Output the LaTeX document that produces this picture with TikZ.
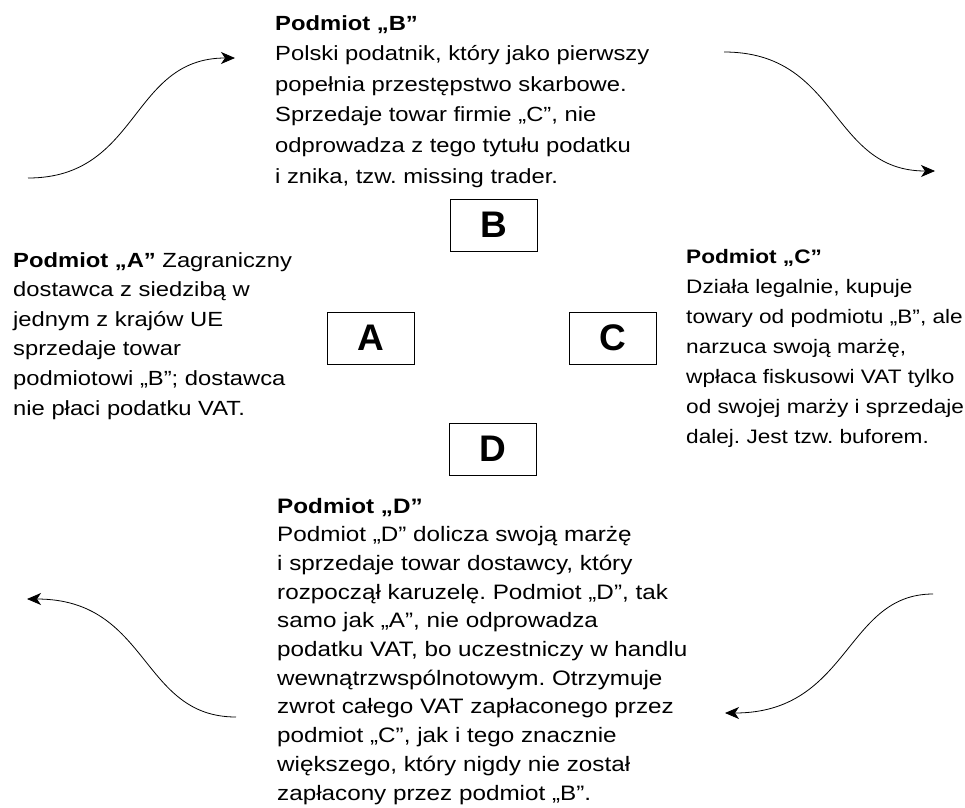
\documentclass[tikz,border=0pt]{standalone}
\usepackage{fontspec}
\setmainfont{Liberation Sans}[FakeStretch=1.16]
\newfontfamily\letterfont{Liberation Sans}
\usetikzlibrary{arrows.meta}
\begin{document}
\frenchspacing
\begin{tikzpicture}[x=1pt,y=-1pt,
  letterbox/.style={draw, line width=0.9pt, minimum width=87pt, minimum height=52pt, inner sep=0pt,
    font=\letterfont\fontsize{37}{40}\selectfont\bfseries},
  desc/.style={anchor=base west, align=left, inner sep=0pt,
    font=\fontsize{20.5}{30}\selectfont},
  flow/.style={line width=0.8pt, -{Stealth[length=14pt,width=12pt,inset=4pt]}}]
\useasboundingbox (0,0) rectangle (965,807);
\node[letterbox] (b) at (493.5,225) {B};
\node[letterbox] (a) at (371,338) {A};
\node[letterbox] (c) at (612.5,338) {C};
\node[letterbox] (d) at (493,449) {D};
% descriptions, placed by the baseline of their last line
\node[desc, font=\fontsize{20.5}{30.6}\selectfont] (tb) at (275,183) {\textbf{Podmiot „B”}\\
Polski podatnik, który jako pierwszy\\
popełnia przestępstwo skarbowe.\\
Sprzedaje towar firmie „C”, nie\\
odprowadza z tego tytułu podatku\\
i znika, tzw. missing trader.};
\node[desc, font=\fontsize{20.5}{29.6}\selectfont] (ta) at (13,415) {\textbf{Podmiot „A”} Zagraniczny\\
dostawca z siedzibą w\\
jednym z krajów UE\\
sprzedaje towar\\
podmiotowi „B”; dostawca\\
nie płaci podatku VAT.};
\node[desc, font=\fontsize{19.5}{30}\selectfont] (tc) at (686,443) {\textbf{Podmiot „C”}\\
Działa legalnie, kupuje\\
towary od podmiotu „B”, ale\\
narzuca swoją marżę,\\
wpłaca fiskusowi VAT tylko\\
od swojej marży i sprzedaje\\
dalej. Jest tzw. buforem.};
\node[desc, font=\fontsize{20.9}{28.7}\selectfont] (td) at (277,800) {\textbf{Podmiot „D”}\\
Podmiot „D” dolicza swoją marżę\\
i sprzedaje towar dostawcy, który\\
rozpoczął karuzelę. Podmiot „D”, tak\\
samo jak „A”, nie odprowadza\\
podatku VAT, bo uczestniczy w handlu\\
wewnątrzwspólnotowym. Otrzymuje\\
zwrot całego VAT zapłaconego przez\\
podmiot „C”, jak i tego znacznie\\
większego, który nigdy nie został\\
zapłacony przez podmiot „B”.};
% curved arrows round the carousel
\coordinate (p1) at (28,178);
\coordinate (q1) at (235,58);
\coordinate (p2) at (724,52);
\coordinate (q2) at (935,171);
\coordinate (p3) at (933,594);
\coordinate (q3) at (725,713);
\coordinate (p4) at (236,717);
\coordinate (q4) at (27,599);
\draw[flow] (p1) .. controls (140,178) and (130,58) .. (q1);
\draw[flow] (p2) .. controls (840,52) and (830,171) .. (q2);
\draw[flow] (p3) .. controls (845,594) and (850,713) .. (q3);
\draw[flow] (p4) .. controls (140,717) and (150,599) .. (q4);
\end{tikzpicture}
\end{document}
